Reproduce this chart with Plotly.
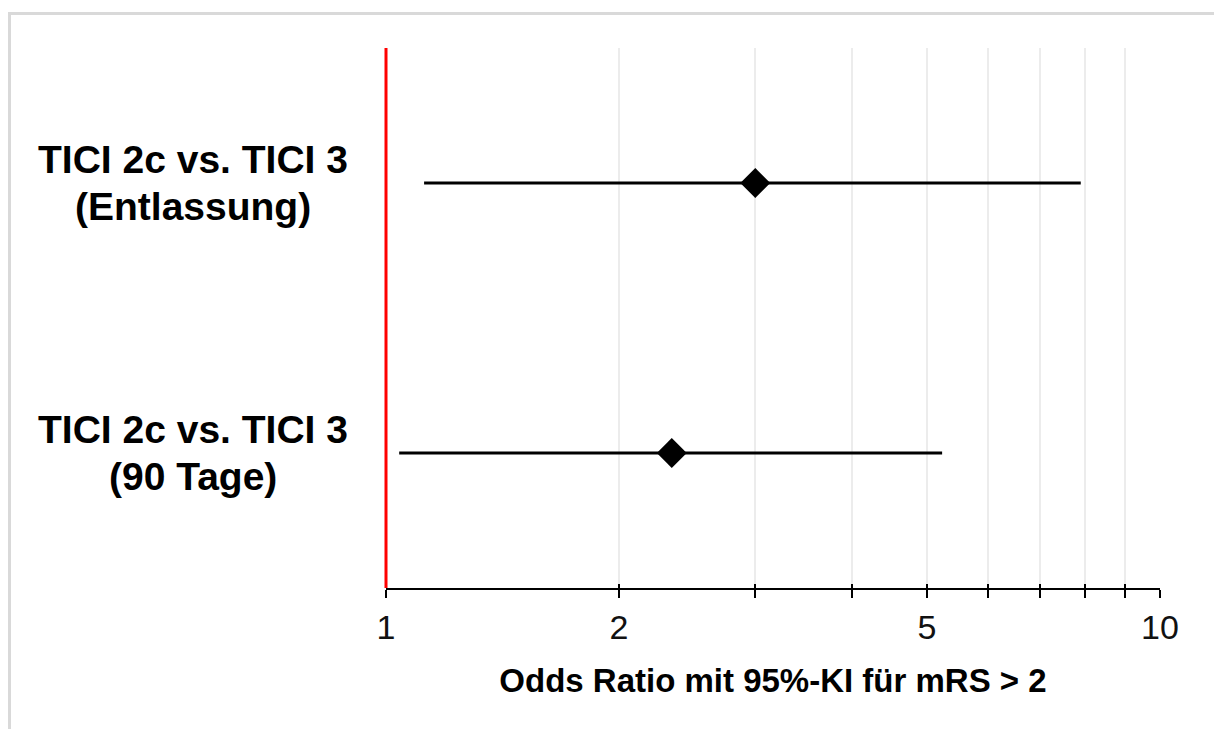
import math
import plotly.graph_objects as go

# Forest plot data: odds ratios with 95% confidence intervals
labels = ["TICI 2c vs. TICI 3<br>(Entlassung)", "TICI 2c vs. TICI 3<br>(90 Tage)"]
odds_ratio = [3.0, 2.34]
ci_lower = [1.12, 1.04]
ci_upper = [7.9, 5.23]

tick_values = [1, 2, 3, 4, 5, 6, 7, 8, 9, 10]
tick_labels = ["1", "2", "", "", "5", "", "", "", "", "10"]
null_value = 1

x_title = "Odds Ratio mit 95%-KI für mRS > 2"

W, H = 1214, 729
ML, MR, MT, MB = 386, 54, 48, 141
FONT = "Liberation Sans, Arial, sans-serif"
X_RANGE = [0, 1]  # log10 of 1 .. 10

fig = go.Figure()

fig.add_trace(go.Scatter(
    x=odds_ratio,
    y=labels,
    mode="markers",
    marker=dict(symbol="diamond", size=23, color="black"),
    error_x=dict(
        type="data",
        symmetric=False,
        array=[u - o for u, o in zip(ci_upper, odds_ratio)],
        arrayminus=[o - l for o, l in zip(odds_ratio, ci_lower)],
        color="black",
        thickness=3,
        width=0,
    ),
    showlegend=False,
    hoverinfo="x+y",
))

# second x axis overlay gives the inner half of the crossing tick marks
fig.add_trace(go.Scatter(x=[null_value], y=[labels[0]], xaxis="x2", mode="markers",
                         marker=dict(opacity=0), showlegend=False, hoverinfo="skip"))

# reference line at OR = 1 (placed in paper space so it is not clipped at the axis edge)
null_paper = (math.log10(null_value) - X_RANGE[0]) / (X_RANGE[1] - X_RANGE[0])
fig.add_shape(type="line", xref="paper", yref="paper", x0=null_paper, x1=null_paper,
              y0=0, y1=1, line=dict(color="#ff0000", width=3), layer="above")

# light outer frame
pw = W - ML - MR
ph = H - MT - MB
def px_x(v):
    return (v - ML) / pw
def px_y(v):
    return (H - MB - v) / ph
fig.add_shape(type="rect", xref="paper", yref="paper",
              x0=px_x(9.5), x1=px_x(1240), y0=px_y(760), y1=px_y(13.5),
              line=dict(color="#d9d9d9", width=3), fillcolor="rgba(0,0,0,0)")

# row labels, centred, with tighter line spacing than the default
LINE_GAP = 47
for lab in labels:
    parts = lab.split("<br>")
    n = len(parts)
    for i, part in enumerate(parts):
        fig.add_annotation(text="<b>" + part + "</b>", xref="paper", yref="y",
                           x=px_x(193), y=lab, xanchor="center", yanchor="middle",
                           yshift=((n - 1) / 2 - i) * LINE_GAP,
                           align="center", showarrow=False,
                           font=dict(family=FONT, size=39, color="black"))

axis_common = dict(type="log", range=X_RANGE)
fig.update_layout(
    width=W, height=H,
    margin=dict(l=ML, r=MR, t=MT, b=MB),
    paper_bgcolor="white",
    plot_bgcolor="white",
    font=dict(family=FONT, color="black"),
    xaxis=dict(
        **axis_common,
        tickvals=tick_values,
        ticktext=tick_labels,
        ticks="outside", ticklen=8, tickwidth=2, tickcolor="black",
        showline=True, linecolor="black", linewidth=2,
        showgrid=True, gridcolor="#ececec", gridwidth=2,
        zeroline=False,
        tickfont=dict(family=FONT, size=34, color="#111111"),
        title=dict(text="<b>" + x_title + "</b>", standoff=24,
                   font=dict(family=FONT, size=33, color="black")),
    ),
    xaxis2=dict(
        **axis_common,
        overlaying="x", side="bottom", anchor="y",
        tickvals=tick_values, showticklabels=False,
        ticks="inside", ticklen=4, tickwidth=2, tickcolor="black",
        showgrid=False, showline=False, zeroline=False,
    ),
    yaxis=dict(
        categoryorder="array", categoryarray=labels,
        range=[1.5, -0.5],
        showticklabels=False, showgrid=False, zeroline=False, showline=False,
        ticks="",
    ),
)

fig.write_html("out.html")
